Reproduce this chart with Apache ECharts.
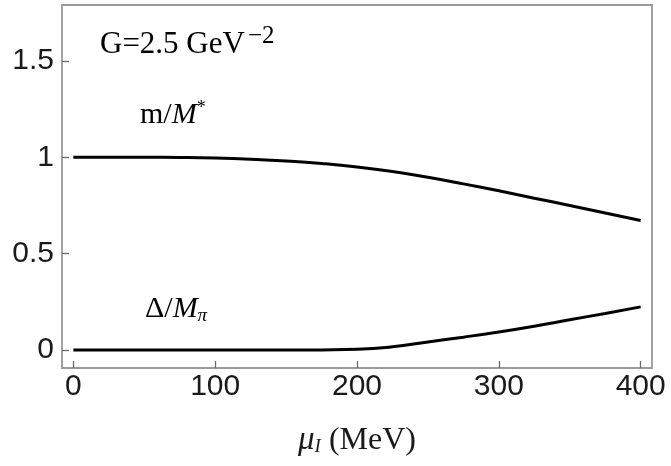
<!DOCTYPE html>
<html>
<head>
<meta charset="utf-8">
<script src="https://cdn.jsdelivr.net/npm/echarts@6/dist/echarts.min.js"></script>
<style>
html,body{margin:0;padding:0;background:#fff;}
#chart{width:671px;height:466px;}
</style>
</head>
<body>
<div id="chart"></div>
<script>
// chemical potential mu_I (MeV)
const muI = [0, 25, 50, 75, 100, 125, 150, 175, 200, 225, 250, 275, 300, 325, 350, 375, 400];
// m / M*
const massRatio = [1.000, 1.000, 1.000, 0.999, 0.996, 0.990, 0.981, 0.968, 0.950, 0.926, 0.896, 0.862, 0.826, 0.788, 0.750, 0.711, 0.672];
// Delta / M_pi
const gapRatio = [0, 0, 0, 0, 0, 0, 0, 0.001, 0.004, 0.017, 0.042, 0.067, 0.094, 0.124, 0.157, 0.190, 0.224];
const xTicks = [0, 100, 200, 300, 400];
const yTicks = [0, 0.5, 1, 1.5];

const chart = echarts.init(document.getElementById('chart'));
const pair = (ys) => muI.map((x, i) => [x, ys[i]]);
const serif = '"Liberation Serif", "DejaVu Serif", serif';
const sans = '"Liberation Sans", Arial, sans-serif';
const ink = '#1a1a1a';

chart.setOption({
  animation: false,
  backgroundColor: '#ffffff',
  grid: {
    left: 62, right: 19, top: 5, bottom: 98,
    show: true, borderColor: '#9a9a9a', borderWidth: 1.8, backgroundColor: 'transparent'
  },
  xAxis: {
    type: 'value', min: -8, max: 408,
    axisLine: { show: false, onZero: false },
    splitLine: { show: false },
    axisTick: { show: true, inside: true, length: 7, customValues: xTicks, lineStyle: { color: '#6a6a6a', width: 1.3 } },
    axisLabel: { customValues: xTicks, fontSize: 30, fontFamily: sans, color: ink, margin: 4 },
    name: '{mu|μ}{sub|I}{rest| (MeV)}',
    nameLocation: 'middle', nameGap: 56,
    nameTextStyle: {
      rich: {
        mu: { fontFamily: serif, fontStyle: 'italic', fontSize: 33, color: ink },
        sub: { fontFamily: serif, fontStyle: 'italic', fontSize: 19, color: ink, padding: [12, 0, 0, 0] },
        rest: { fontFamily: serif, fontSize: 32, color: ink }
      }
    }
  },
  yAxis: {
    type: 'value', min: -0.093, max: 1.79,
    axisLine: { show: false, onZero: false },
    splitLine: { show: false },
    axisTick: { show: true, inside: true, length: 7, customValues: yTicks, lineStyle: { color: '#6a6a6a', width: 1.3 } },
    axisLabel: { customValues: yTicks, fontSize: 30, fontFamily: sans, color: ink, margin: 8 }
  },
  graphic: [
    { type: 'text', left: 100, top: 24, style: {
        text: '{a|G=2.5 GeV}{s|−2}',
        rich: {
          a: { fontFamily: serif, fontSize: 31, color: ink },
          s: { fontFamily: serif, fontSize: 25, color: ink, padding: [0, 0, 17, 3] }
        } } },
    { type: 'text', left: 140, top: 99, style: {
        text: '{a|m/}{b|M}{c|*}',
        rich: {
          a: { fontFamily: serif, fontSize: 30, color: ink },
          b: { fontFamily: serif, fontStyle: 'italic', fontSize: 30, color: ink },
          c: { fontFamily: serif, fontSize: 18, color: ink, padding: [0, 0, 14, 0] }
        } } },
    { type: 'text', left: 145, top: 294, style: {
        text: '{a|Δ/}{b|M}{c|π}',
        rich: {
          a: { fontFamily: serif, fontSize: 30, color: ink },
          b: { fontFamily: serif, fontStyle: 'italic', fontSize: 30, color: ink },
          c: { fontFamily: serif, fontStyle: 'italic', fontSize: 19, color: ink, padding: [13, 0, 0, 0] }
        } } }
  ],
  series: [
    { type: 'line', data: pair(massRatio), smooth: true, showSymbol: false, lineStyle: { color: '#000', width: 3 } },
    { type: 'line', data: pair(gapRatio), smooth: true, showSymbol: false, lineStyle: { color: '#000', width: 3 } }
  ]
});
</script>
</body>
</html>
